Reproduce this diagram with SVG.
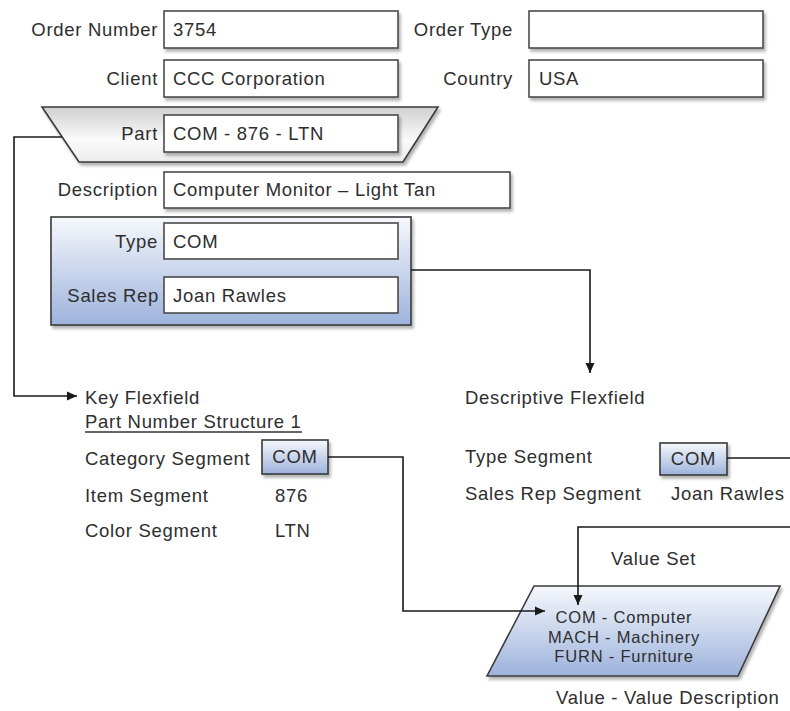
<svg xmlns="http://www.w3.org/2000/svg" width="790" height="711" viewBox="0 0 790 711">
<defs>
<linearGradient id="gGray" x1="0" y1="0" x2="0" y2="1">
<stop offset="0" stop-color="#d0d0d0"/>
<stop offset="0.6" stop-color="#fafafa"/>
<stop offset="1" stop-color="#ececec"/>
</linearGradient>
<linearGradient id="gBlue" x1="0" y1="0" x2="0" y2="1">
<stop offset="0" stop-color="#f6f8fc"/>
<stop offset="1" stop-color="#9db3dc"/>
</linearGradient>
<filter id="sh" x="-10%" y="-10%" width="130%" height="140%">
<feDropShadow dx="2" dy="3" stdDeviation="1.5" flood-color="#000" flood-opacity="0.3"/>
</filter>
<marker id="arr" viewBox="0 0 10 10" refX="10" refY="5" markerWidth="10" markerHeight="10" markerUnits="userSpaceOnUse" orient="auto">
<path d="M0,0.5 L10,5 L0,9.5 z" fill="#1a1a1a"/>
</marker>
</defs>
<style>
text{font-family:"Liberation Sans",Arial,sans-serif;font-size:18.5px;fill:#2e2e2e;letter-spacing:0.7px}
.lbl{text-anchor:end}
.fld{fill:#fff;stroke:#4a4a4a;stroke-width:1.6;filter:url(#sh)}
.blue{fill:url(#gBlue);stroke:#3a3a3a;stroke-width:1.6;filter:url(#sh)}
.vs{font-size:16.5px;letter-spacing:0.8px;text-anchor:middle}
.con{fill:none;stroke:#1a1a1a;stroke-width:1.6}
</style>

<g id="order-number">
<text class="lbl" x="158" y="36">Order Number</text>
<rect class="fld" x="164" y="11" width="234" height="37"/>
<text x="173" y="36">3754</text>
</g>
<g id="order-type">
<text class="lbl" x="513" y="36">Order Type</text>
<rect class="fld" x="529" y="11" width="234" height="37"/>
</g>
<g id="client">
<text class="lbl" x="158" y="85">Client</text>
<rect class="fld" x="164" y="60" width="234" height="37"/>
<text x="173" y="85">CCC Corporation</text>
</g>
<g id="country">
<text class="lbl" x="513" y="85">Country</text>
<rect class="fld" x="529" y="60" width="234" height="37"/>
<text x="539" y="85">USA</text>
</g>
<g id="part">
<polygon points="42,107 438,107 403,162 79,162" fill="url(#gGray)" stroke="#3a3a3a" stroke-width="1.6" filter="url(#sh)"/>
<text class="lbl" x="158" y="140">Part</text>
<rect class="fld" x="164" y="115" width="234" height="37"/>
<text x="173" y="140">COM - 876 - LTN</text>
</g>
<g id="description">
<text class="lbl" x="158" y="196">Description</text>
<rect class="fld" x="164" y="172" width="346" height="36"/>
<text x="173" y="196">Computer Monitor – Light Tan</text>
</g>
<g id="descriptive-fields">
<rect class="blue" x="51" y="217" width="360" height="108"/>
<text class="lbl" x="158" y="248">Type</text>
<rect class="fld" x="164" y="223" width="234" height="36" style="filter:none"/>
<text x="173" y="248">COM</text>
<text class="lbl" x="159" y="302">Sales Rep</text>
<rect class="fld" x="164" y="277" width="234" height="36" style="filter:none"/>
<text x="173" y="302">Joan Rawles</text>
</g>
<g id="key-flexfield">
<text x="85" y="404">Key Flexfield</text>
<text x="85" y="428">Part Number Structure 1</text>
<line x1="85" y1="432" x2="302" y2="432" stroke="#333" stroke-width="1.3"/>
<text x="85" y="465">Category Segment</text>
<rect class="blue" x="262" y="440" width="66" height="34"/>
<text x="295" y="463" text-anchor="middle">COM</text>
<text x="85" y="502">Item Segment</text>
<text x="275" y="502">876</text>
<text x="85" y="537">Color Segment</text>
<text x="275" y="537">LTN</text>
</g>
<g id="descriptive-flexfield">
<text x="465" y="404">Descriptive Flexfield</text>
<text x="465" y="463">Type Segment</text>
<rect class="blue" x="660" y="443" width="67" height="32"/>
<text x="693.5" y="465" text-anchor="middle">COM</text>
<text x="465" y="500">Sales Rep Segment</text>
<text x="671" y="500">Joan Rawles</text>
</g>
<g id="value-set">
<text x="611" y="565">Value Set</text>
<polygon class="blue" points="534,586 780,586 738,676 487,676"/>
<text class="vs" x="624" y="623">COM - Computer</text>
<text class="vs" x="624" y="643">MACH - Machinery</text>
<text class="vs" x="624" y="662">FURN - Furniture</text>
<text x="556" y="704">Value - Value Description</text>
</g>
<g id="connectors">
<path class="con" d="M62,137 H14 V396 H77" marker-end="url(#arr)"/>
<path class="con" d="M411,270 H590 V373" marker-end="url(#arr)"/>
<path class="con" d="M328,457 H403 V611 H545" marker-end="url(#arr)"/>
<path class="con" d="M727,458 H800 V527 H578 V605" marker-end="url(#arr)"/>
</g>
</svg>
